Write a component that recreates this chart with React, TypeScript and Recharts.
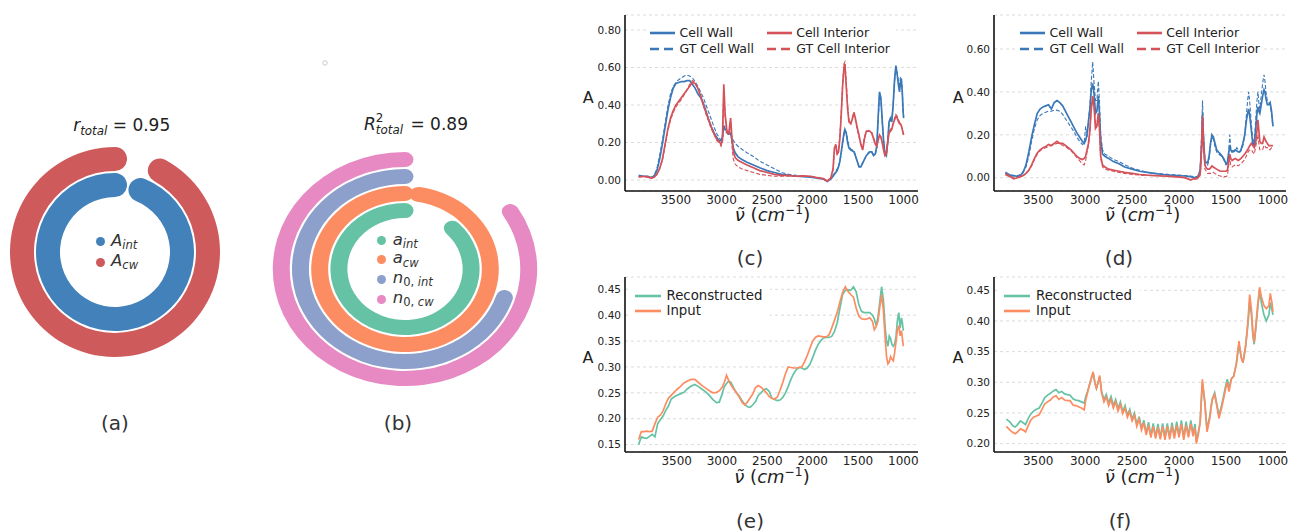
import type { ReactNode } from "react"
import {
  CartesianGrid,
  Cell,
  Line,
  LineChart,
  PolarAngleAxis,
  RadialBar,
  RadialBarChart,
  XAxis,
  YAxis,
} from "recharts"

const FONT = '"DejaVu Sans", Verdana, sans-serif'

// (a) ring values, fraction of a full turn
const aSubs = ["int", "cw"]
const aValues = [0.938, 0.92]
const aColors = ["#4381ba", "#cf5a5c"]

// (b) ring values
const bBases = ["a", "a", "n", "n"]
const bSubs = ["int", "cw", "0,int", "0,cw"]
const bValues = [0.873, 0.975, 0.7, 0.838]
const bColors = ["#66c2a5", "#fc8d62", "#8da0cb", "#e78ac3"]

const xTicks = [3500, 3000, 2500, 2000, 1500, 1000]

// (c) spectra
const cWn = [
  3910, 3860, 3810, 3770, 3740, 3710, 3680, 3650, 3620, 3590,
  3560, 3530, 3500, 3470, 3440, 3410, 3380, 3350, 3320, 3290,
  3260, 3230, 3200, 3170, 3140, 3110, 3080, 3050, 3025, 3005,
  2990, 2975, 2960, 2940, 2920, 2900, 2885, 2870, 2850, 2820,
  2780, 2720, 2650, 2580, 2500, 2420, 2340, 2260, 2180, 2100,
  2020, 1940, 1880, 1840, 1800, 1775, 1760, 1745, 1730, 1715,
  1700, 1685, 1670, 1655, 1645, 1630, 1615, 1600, 1580, 1560,
  1545, 1530, 1510, 1490, 1470, 1450, 1430, 1410, 1390, 1370,
  1350, 1330, 1310, 1295, 1280, 1265, 1250, 1235, 1220, 1205,
  1190, 1175, 1160, 1145, 1130, 1115, 1100, 1085, 1070, 1055,
  1045, 1035, 1025, 1015, 1005, 1000,
]
const cWall = [
  0.025, 0.02, 0.02, 0.012, 0.02, 0.05, 0.11, 0.19, 0.28, 0.37,
  0.44, 0.49, 0.515, 0.52, 0.525, 0.525, 0.53, 0.53, 0.51, 0.49,
  0.46, 0.44, 0.41, 0.365, 0.32, 0.28, 0.25, 0.225, 0.21, 0.21,
  0.23, 0.29, 0.27, 0.26, 0.245, 0.25, 0.21, 0.17, 0.145, 0.125,
  0.11, 0.095, 0.08, 0.065, 0.05, 0.04, 0.03, 0.025, 0.02, 0.018,
  0.015, 0.01, 0.005, -0.008, 0.005, 0.02, 0.03, 0.04, 0.05, 0.07,
  0.1, 0.15, 0.2, 0.25, 0.27, 0.25, 0.2, 0.17, 0.16, 0.155,
  0.15, 0.13, 0.1, 0.07, 0.07, 0.09, 0.11, 0.13, 0.14, 0.15,
  0.15, 0.13, 0.14, 0.18, 0.33, 0.47, 0.44, 0.32, 0.21, 0.14,
  0.13, 0.2, 0.31, 0.33, 0.31, 0.4, 0.53, 0.61, 0.56, 0.5,
  0.47, 0.52, 0.54, 0.47, 0.36, 0.33,
]
const cGtWall = [
  0.02, 0.02, 0.018, 0.015, 0.025, 0.06, 0.13, 0.21, 0.3, 0.39,
  0.46, 0.5, 0.52, 0.535, 0.545, 0.555, 0.56, 0.555, 0.545, 0.525,
  0.5, 0.47, 0.44, 0.4, 0.36, 0.32, 0.28, 0.245, 0.225, 0.21,
  0.22, 0.27, 0.26, 0.25, 0.24, 0.245, 0.23, 0.21, 0.195, 0.18,
  0.165, 0.145, 0.125, 0.1, 0.08, 0.06, 0.04, 0.03, 0.025, 0.02,
  0.015, 0.01, 0.005, -0.005, 0.01, 0.025, 0.035, 0.045, 0.06, 0.07,
  0.1, 0.14, 0.19, 0.24, 0.265, 0.255, 0.215, 0.18, 0.165, 0.16,
  0.155, 0.135, 0.1, 0.075, 0.075, 0.09, 0.11, 0.13, 0.145, 0.155,
  0.15, 0.135, 0.14, 0.17, 0.31, 0.45, 0.43, 0.31, 0.21, 0.15,
  0.14, 0.2, 0.3, 0.32, 0.32, 0.4, 0.52, 0.6, 0.57, 0.52,
  0.49, 0.55, 0.54, 0.48, 0.37, 0.34,
]
const cInt = [
  0.015, 0.02, 0.015, 0.01, 0.015, 0.03, 0.06, 0.11, 0.19, 0.27,
  0.33, 0.37, 0.4, 0.42, 0.44, 0.46, 0.48, 0.5, 0.52, 0.515,
  0.49, 0.45, 0.4, 0.36, 0.32, 0.28, 0.245, 0.215, 0.205, 0.19,
  0.21, 0.51, 0.35, 0.26, 0.25, 0.33, 0.22, 0.15, 0.12, 0.105,
  0.095, 0.08, 0.065, 0.05, 0.04, 0.03, 0.025, 0.025, 0.02, 0.022,
  0.02, 0.012, 0.008, -0.005, 0.01, 0.06, 0.17, 0.19, 0.14, 0.15,
  0.22, 0.35, 0.5, 0.6, 0.62, 0.5, 0.38, 0.31, 0.3, 0.33,
  0.36, 0.33, 0.28, 0.24, 0.19, 0.16, 0.22, 0.26, 0.26, 0.26,
  0.25, 0.22, 0.19, 0.18, 0.21, 0.24, 0.23, 0.2, 0.16, 0.13,
  0.14, 0.2, 0.25, 0.26, 0.27, 0.3, 0.32, 0.34, 0.33, 0.31,
  0.3, 0.3, 0.29, 0.27, 0.25, 0.24,
]
const cGtInt = [
  0.02, 0.015, 0.02, 0.012, 0.015, 0.03, 0.06, 0.1, 0.18, 0.26,
  0.32, 0.36, 0.39, 0.41, 0.43, 0.455, 0.48, 0.51, 0.53, 0.52,
  0.49, 0.45, 0.4, 0.35, 0.31, 0.27, 0.24, 0.21, 0.2, 0.18,
  0.2, 0.47, 0.33, 0.25, 0.24, 0.31, 0.18, 0.11, 0.085, 0.07,
  0.06, 0.05, 0.04, 0.03, 0.025, 0.02, 0.02, 0.02, 0.02, 0.02,
  0.018, 0.01, 0.005, -0.008, 0.005, 0.05, 0.15, 0.18, 0.13, 0.16,
  0.24, 0.36, 0.51, 0.62, 0.63, 0.52, 0.4, 0.32, 0.3, 0.34,
  0.36, 0.32, 0.27, 0.23, 0.19, 0.17, 0.23, 0.26, 0.265, 0.26,
  0.255, 0.225, 0.2, 0.19, 0.22, 0.24, 0.23, 0.2, 0.17, 0.14,
  0.15, 0.21, 0.26, 0.27, 0.28, 0.3, 0.33, 0.35, 0.34, 0.32,
  0.31, 0.3, 0.29, 0.27, 0.25, 0.24,
]

// (d) spectra
const dWn = [
  3850, 3800, 3760, 3720, 3690, 3660, 3630, 3600, 3570, 3540,
  3510, 3480, 3450, 3420, 3390, 3360, 3330, 3300, 3270, 3240,
  3210, 3180, 3150, 3120, 3090, 3060, 3030, 3010, 2995, 2980,
  2965, 2950, 2935, 2920, 2905, 2890, 2875, 2860, 2848, 2835,
  2815, 2790, 2750, 2700, 2640, 2580, 2500, 2420, 2340, 2260,
  2180, 2100, 2020, 1940, 1880, 1840, 1800, 1775, 1760, 1750,
  1740, 1725, 1710, 1695, 1680, 1665, 1650, 1635, 1620, 1600,
  1580, 1560, 1540, 1520, 1500, 1485, 1470, 1460, 1450, 1435,
  1420, 1400, 1385, 1370, 1355, 1340, 1320, 1300, 1285, 1270,
  1258, 1245, 1230, 1215, 1200, 1185, 1170, 1160, 1150, 1140,
  1125, 1110, 1095, 1085, 1075, 1060, 1045, 1030, 1015, 1000,
]
const dWall = [
  0.025, 0.012, 0.01, 0.005, 0.01, 0.025, 0.06, 0.12, 0.19, 0.25,
  0.3, 0.32, 0.33, 0.335, 0.34, 0.32, 0.35, 0.36, 0.35, 0.335,
  0.31, 0.285, 0.26, 0.235, 0.21, 0.19, 0.17, 0.16, 0.175, 0.2,
  0.26, 0.32, 0.41, 0.44, 0.39, 0.3, 0.31, 0.38, 0.3, 0.18,
  0.11, 0.1, 0.09, 0.075, 0.065, 0.05, 0.04, 0.03, 0.025, 0.02,
  0.015, 0.012, 0.01, 0.008, 0.005, 0, 0.005, 0.03, 0.15, 0.3,
  0.18, 0.08, 0.07, 0.07, 0.1, 0.16, 0.2, 0.19, 0.165, 0.13,
  0.12, 0.11, 0.1, 0.085, 0.065, 0.07, 0.12, 0.15, 0.13, 0.12,
  0.125, 0.13, 0.125, 0.12, 0.12, 0.13, 0.16, 0.2, 0.26, 0.3,
  0.32, 0.28, 0.22, 0.16, 0.15, 0.22, 0.3, 0.33, 0.31, 0.3,
  0.34, 0.38, 0.41, 0.4, 0.37, 0.34, 0.34, 0.35, 0.31, 0.24,
]
const dGtWall = [
  0.02, 0.01, 0.008, 0.01, 0.015, 0.03, 0.05, 0.1, 0.17, 0.23,
  0.27, 0.29, 0.3, 0.305, 0.31, 0.31, 0.315, 0.315, 0.31, 0.295,
  0.275, 0.255, 0.235, 0.215, 0.19, 0.17, 0.155, 0.16, 0.24, 0.19,
  0.27, 0.33, 0.45, 0.54, 0.44, 0.36, 0.36, 0.45, 0.36, 0.2,
  0.13, 0.11, 0.1, 0.085, 0.075, 0.06, 0.045, 0.035, 0.025, 0.02,
  0.018, 0.015, 0.012, 0.01, 0.008, 0.005, 0.005, 0.04, 0.2, 0.36,
  0.22, 0.08, 0.06, 0.06, 0.09, 0.15, 0.19, 0.18, 0.15, 0.12,
  0.11, 0.105, 0.095, 0.08, 0.06, 0.065, 0.13, 0.2, 0.14, 0.13,
  0.12, 0.125, 0.14, 0.13, 0.12, 0.125, 0.15, 0.2, 0.28, 0.36,
  0.4, 0.34, 0.25, 0.18, 0.16, 0.26, 0.36, 0.4, 0.35, 0.32,
  0.38, 0.44, 0.48, 0.45, 0.4, 0.36, 0.35, 0.34, 0.3, 0.24,
]
const dInt = [
  0.015, 0.005, -0.005, 0, 0.005, 0.01, 0.02, 0.035, 0.06, 0.09,
  0.115, 0.13, 0.14, 0.145, 0.155, 0.15, 0.16, 0.17, 0.16, 0.16,
  0.15, 0.14, 0.13, 0.115, 0.1, 0.09, 0.085, 0.09, 0.1, 0.13,
  0.16, 0.22, 0.32, 0.38, 0.33, 0.23, 0.24, 0.3, 0.24, 0.1,
  0.06, 0.05, 0.04, 0.035, 0.03, 0.025, 0.02, 0.015, 0.012, 0.01,
  0.008, 0.006, 0.004, 0, -0.01, -0.005, 0, 0.02, 0.14, 0.28,
  0.16, 0.06, 0.045, 0.04, 0.04, 0.045, 0.055, 0.05, 0.045, 0.04,
  0.035, 0.03, 0.03, 0.03, 0.03, 0.035, 0.08, 0.11, 0.09, 0.08,
  0.085, 0.09, 0.085, 0.08, 0.085, 0.09, 0.1, 0.11, 0.12, 0.13,
  0.14, 0.15, 0.16, 0.15, 0.14, 0.16, 0.22, 0.27, 0.22, 0.17,
  0.16, 0.16, 0.19, 0.18, 0.17, 0.16, 0.15, 0.15, 0.15, 0.15,
]
const dGtInt = [
  0.02, 0.008, 0, 0.002, 0.005, 0.01, 0.02, 0.035, 0.055, 0.085,
  0.11, 0.125, 0.135, 0.14, 0.145, 0.15, 0.155, 0.16, 0.16, 0.15,
  0.145, 0.135, 0.125, 0.11, 0.095, 0.08, 0.065, 0.06, 0.08, 0.12,
  0.15, 0.21, 0.32, 0.37, 0.33, 0.24, 0.25, 0.3, 0.22, 0.09,
  0.05, 0.04, 0.035, 0.03, 0.025, 0.02, 0.015, 0.012, 0.01, 0.01,
  0.008, 0.006, 0.004, 0, -0.01, -0.008, -0.005, 0.01, 0.12, 0.29,
  0.15, 0.04, 0.03, 0.02, 0.02, 0.02, 0.025, 0.025, 0.02, 0.015,
  0.01, 0.008, 0.005, 0.005, 0.005, 0.01, 0.06, 0.09, 0.06, 0.05,
  0.055, 0.06, 0.06, 0.055, 0.06, 0.065, 0.075, 0.085, 0.1, 0.115,
  0.125, 0.13, 0.13, 0.12, 0.11, 0.14, 0.18, 0.2, 0.16, 0.13,
  0.13, 0.13, 0.15, 0.15, 0.14, 0.14, 0.13, 0.13, 0.14, 0.14,
]

// (e) reconstruction
const eWn = [
  3920, 3890, 3860, 3830, 3800, 3770, 3740, 3710, 3680, 3650,
  3620, 3590, 3560, 3530, 3500, 3460, 3420, 3380, 3340, 3300,
  3260, 3220, 3180, 3140, 3100, 3060, 3030, 3000, 2975, 2950,
  2925, 2900, 2870, 2840, 2810, 2780, 2750, 2720, 2690, 2660,
  2630, 2600, 2570, 2540, 2510, 2480, 2450, 2420, 2390, 2360,
  2330, 2300, 2270, 2240, 2210, 2180, 2150, 2120, 2090, 2060,
  2030, 2000, 1970, 1940, 1910, 1880, 1850, 1820, 1790, 1760,
  1730, 1700, 1670, 1640, 1610, 1580, 1550, 1520, 1490, 1460,
  1430, 1400, 1370, 1340, 1320, 1300, 1280, 1260, 1240, 1220,
  1200, 1185, 1170, 1155, 1140, 1125, 1110, 1095, 1080, 1065,
  1050, 1035, 1020, 1010, 1000,
]
const eInput = [
  0.16, 0.175, 0.175, 0.176, 0.175, 0.176, 0.19, 0.203, 0.207, 0.215,
  0.229, 0.24, 0.245, 0.251, 0.256, 0.262, 0.269, 0.273, 0.276, 0.276,
  0.27, 0.264, 0.259, 0.254, 0.25, 0.251, 0.254, 0.26, 0.27, 0.284,
  0.273, 0.265, 0.257, 0.25, 0.242, 0.232, 0.227, 0.232, 0.24, 0.248,
  0.26, 0.264, 0.261, 0.256, 0.25, 0.243, 0.239, 0.238, 0.242, 0.255,
  0.27, 0.287, 0.3, 0.299, 0.298, 0.298, 0.299, 0.3, 0.31, 0.322,
  0.336, 0.35, 0.357, 0.36, 0.359, 0.358, 0.358, 0.362, 0.375, 0.39,
  0.405, 0.425, 0.444, 0.455, 0.446, 0.44, 0.435, 0.414, 0.398, 0.393,
  0.392, 0.393, 0.395, 0.388, 0.372, 0.378, 0.388, 0.415, 0.44, 0.41,
  0.355, 0.32, 0.306, 0.31, 0.32, 0.315, 0.312, 0.328, 0.35, 0.372,
  0.38, 0.36, 0.37, 0.355, 0.34,
]
const eRecon = [
  0.15, 0.165, 0.163, 0.162, 0.166, 0.17, 0.165, 0.19, 0.198, 0.205,
  0.216, 0.225, 0.238, 0.242, 0.245, 0.248, 0.251, 0.258, 0.263, 0.266,
  0.262, 0.257, 0.252, 0.245, 0.237, 0.231, 0.232, 0.247, 0.262, 0.268,
  0.273, 0.27, 0.259, 0.25, 0.244, 0.235, 0.228, 0.223, 0.222, 0.227,
  0.233, 0.245, 0.25, 0.256, 0.258, 0.253, 0.24, 0.237, 0.235, 0.236,
  0.241, 0.25, 0.262, 0.276, 0.287, 0.295, 0.299, 0.298, 0.295, 0.298,
  0.305, 0.318, 0.332, 0.343, 0.351, 0.356, 0.357, 0.357, 0.359, 0.368,
  0.385, 0.413, 0.44, 0.448, 0.449, 0.448, 0.455, 0.445, 0.42, 0.407,
  0.405, 0.405, 0.405, 0.4, 0.393, 0.38, 0.395, 0.425, 0.455, 0.43,
  0.375, 0.35, 0.34, 0.36, 0.355, 0.343, 0.34, 0.345, 0.36, 0.39,
  0.405, 0.375, 0.395, 0.385, 0.37,
]

// (f) reconstruction
const fWn = [
  3840, 3800, 3770, 3745, 3720, 3690, 3660, 3635, 3610, 3580,
  3550, 3520, 3490, 3460, 3430, 3400, 3370, 3340, 3310, 3280,
  3250, 3220, 3190, 3160, 3130, 3100, 3070, 3040, 3010, 2995,
  2975, 2950, 2930, 2915, 2895, 2880, 2862, 2845, 2825, 2800,
  2775, 2750, 2725, 2700, 2675, 2650, 2625, 2600, 2575, 2550,
  2525, 2500, 2475, 2450, 2425, 2400, 2375, 2350, 2325, 2300,
  2275, 2250, 2225, 2200, 2175, 2150, 2125, 2100, 2075, 2050,
  2025, 2000, 1975, 1950, 1925, 1900, 1875, 1850, 1830, 1815,
  1795, 1775, 1752, 1727, 1702, 1675, 1648, 1621, 1596, 1575,
  1550, 1525, 1500, 1486, 1468, 1443, 1418, 1390, 1362, 1337,
  1319, 1291, 1266, 1248, 1230, 1213, 1200, 1184, 1160, 1142,
  1124, 1096, 1071, 1043, 1028, 1011, 1000,
]
const fInput = [
  0.228, 0.222, 0.218, 0.216, 0.219, 0.224, 0.222, 0.219, 0.228, 0.238,
  0.243, 0.245, 0.247, 0.256, 0.265, 0.268, 0.271, 0.276, 0.278, 0.272,
  0.275, 0.271, 0.27, 0.27, 0.263, 0.262, 0.26, 0.258, 0.255, 0.27,
  0.283, 0.298, 0.31, 0.317, 0.298, 0.29, 0.3, 0.311, 0.283, 0.268,
  0.276, 0.262, 0.272, 0.258, 0.268, 0.253, 0.264, 0.249, 0.258, 0.243,
  0.252, 0.237, 0.246, 0.228, 0.24, 0.222, 0.234, 0.214, 0.23, 0.21,
  0.228, 0.208, 0.227, 0.207, 0.228, 0.206, 0.228, 0.207, 0.229, 0.208,
  0.23, 0.21, 0.232, 0.206, 0.23, 0.21, 0.232, 0.212, 0.226, 0.2,
  0.215, 0.235, 0.305, 0.268, 0.219, 0.24, 0.27, 0.28, 0.26, 0.241,
  0.256, 0.274, 0.292, 0.3, 0.285, 0.305, 0.31, 0.33, 0.367, 0.34,
  0.332, 0.36, 0.4, 0.443, 0.42, 0.38, 0.365, 0.39, 0.43, 0.455,
  0.44, 0.425, 0.42, 0.425, 0.445, 0.43, 0.415,
]
const fRecon = [
  0.24, 0.235, 0.229, 0.227, 0.231, 0.237, 0.234, 0.231, 0.24, 0.248,
  0.253, 0.256, 0.258, 0.266, 0.275, 0.279, 0.282, 0.286, 0.288, 0.283,
  0.285, 0.281, 0.28, 0.279, 0.273, 0.271, 0.27, 0.268, 0.266, 0.276,
  0.285, 0.298, 0.308, 0.315, 0.298, 0.29, 0.3, 0.309, 0.285, 0.272,
  0.28, 0.266, 0.277, 0.262, 0.272, 0.257, 0.268, 0.252, 0.262, 0.246,
  0.256, 0.24, 0.25, 0.231, 0.244, 0.225, 0.238, 0.217, 0.235, 0.213,
  0.233, 0.211, 0.232, 0.21, 0.233, 0.21, 0.233, 0.211, 0.234, 0.212,
  0.236, 0.213, 0.238, 0.21, 0.236, 0.213, 0.238, 0.216, 0.232, 0.203,
  0.218, 0.236, 0.3, 0.27, 0.223, 0.243, 0.272, 0.283, 0.263, 0.246,
  0.26, 0.278, 0.297, 0.305, 0.29, 0.306, 0.31, 0.33, 0.362, 0.34,
  0.332, 0.358, 0.395, 0.43, 0.412, 0.375, 0.362, 0.385, 0.425, 0.45,
  0.43, 0.41, 0.4, 0.41, 0.43, 0.418, 0.41,
]

const BLUE = "#3a78b8"
const RED = "#d4525a"
const GREEN = "#66c2a5"
const ORANGE = "#fc8d62"

type Series = { key: string; label: string; color: string; dashed?: boolean }

const cellSeries: Series[] = [
  { key: "wall", label: "Cell Wall", color: BLUE },
  { key: "gtWall", label: "GT Cell Wall", color: BLUE, dashed: true },
  { key: "int", label: "Cell Interior", color: RED },
  { key: "gtInt", label: "GT Cell Interior", color: RED, dashed: true },
]
const reconSeries: Series[] = [
  { key: "recon", label: "Reconstructed", color: GREEN },
  { key: "input", label: "Input", color: ORANGE },
]

const cRows = cWn.map((wn, i) => ({ wn, wall: cWall[i], gtWall: cGtWall[i], int: cInt[i], gtInt: cGtInt[i] }))
const dRows = dWn.map((wn, i) => ({ wn, wall: dWall[i], gtWall: dGtWall[i], int: dInt[i], gtInt: dGtInt[i] }))
const eRows = eWn.map((wn, i) => ({ wn, recon: eRecon[i], input: eInput[i] }))
const fRows = fWn.map((wn, i) => ({ wn, recon: fRecon[i], input: fInput[i] }))

const at = (x: number, y: number): React.CSSProperties => ({
  position: "absolute",
  left: x,
  top: y,
  transform: "translate(-50%, -50%)",
  whiteSpace: "nowrap",
})

function Sub({ text }: { text: string }) {
  // leading digits stay upright, like mathtext
  const m = text.match(/^(\d+,\s?)(.*)$/)
  return (
    <span style={{ fontSize: "0.7em", position: "relative", top: "0.3em" }}>
      {m ? <span style={{ fontStyle: "normal" }}>{m[1].replace(",", ", ")}</span> : null}
      <i>{m ? m[2] : text}</i>
    </span>
  )
}

function Sym({ base, sub }: { base: string; sub: string }) {
  return (
    <span>
      <i>{base}</i>
      <Sub text={sub} />
    </span>
  )
}

function Rings({ left, top, size, inner, outer, values, colors, stretch = 1 }: {
  left: number; top: number; size: number; inner: number; outer: number
  values: number[]; colors: string[]; stretch?: number
}) {
  const rows = values.map((value, i) => ({ id: i, value }))
  return (
    <div style={{ position: "absolute", left, top, width: size, height: size, transform: `scaleX(${stretch})`, transformOrigin: "50% 50%" }}>
      <RadialBarChart
        width={size}
        height={size}
        cx={size / 2}
        cy={size / 2}
        margin={{ top: 0, right: 0, bottom: 0, left: 0 }}
        innerRadius={inner}
        outerRadius={outer}
        startAngle={90}
        endAngle={450}
        barCategoryGap={1}
        data={rows}
      >
        <PolarAngleAxis type="number" domain={[0, 1]} tick={false} axisLine={false} />
        <RadialBar dataKey="value" cornerRadius={20} cornerIsExternal isAnimationActive={false}>
          {rows.map((r) => (
            <Cell key={r.id} fill={colors[r.id]} />
          ))}
        </RadialBar>
      </RadialBarChart>
    </div>
  )
}

function DotLegend({ x, ys, colors, children }: { x: number; ys: number[]; colors: string[]; children: ReactNode[] }) {
  return (
    <>
      {ys.map((y, i) => (
        <div key={i}>
          <div style={{ position: "absolute", left: x - 4.5, top: y - 4.5, width: 9, height: 9, borderRadius: "50%", background: colors[i] }} />
          <div style={{ position: "absolute", left: x + 11, top: y - 11, lineHeight: "20px", fontSize: 16.5, color: "#333", whiteSpace: "nowrap" }}>
            {children[i]}
          </div>
        </div>
      ))}
    </>
  )
}

type Box = { left: number; top: number; width: number; height: number; yAxisWidth: number; plotTop: number; right: number; xAxisHeight: number }

function Spectrum({ rows, series, box, xDomain, yDomain, yTicks }: {
  rows: Record<string, number>[]; series: Series[]; box: Box
  xDomain: [number, number]; yDomain: [number, number]; yTicks: number[]
}) {
  return (
    <div style={{ position: "absolute", left: box.left, top: box.top }}>
      <LineChart width={box.width} height={box.height} data={rows} margin={{ top: box.plotTop, right: box.right, bottom: 0, left: 0 }}>
        <CartesianGrid vertical={false} stroke="#d2d2d2" strokeDasharray="3 3" strokeWidth={0.8} />
        <XAxis
          type="number"
          dataKey="wn"
          domain={xDomain}
          reversed
          allowDataOverflow
          ticks={xTicks}
          interval={0}
          height={box.xAxisHeight}
          tickLine={false}
          tickSize={4}
          tickMargin={0}
          axisLine={{ stroke: "#111", strokeWidth: 1.6 }}
          tick={{ fill: "#222", fontSize: 12, fontFamily: FONT }}
        />
        <YAxis
          type="number"
          domain={yDomain}
          allowDataOverflow
          ticks={yTicks}
          interval={0}
          width={box.yAxisWidth}
          tickFormatter={(v: number) => v.toFixed(2)}
          tickLine={false}
          tickSize={3}
          tickMargin={1}
          axisLine={{ stroke: "#111", strokeWidth: 1.6 }}
          tick={{ fill: "#222", fontSize: 10.5, fontFamily: FONT }}
        />
        {series.map((s) => (
          <Line
            key={s.key}
            type="linear"
            dataKey={s.key}
            stroke={s.color}
            strokeWidth={s.dashed ? 1.1 : 1.7}
            strokeDasharray={s.dashed ? "4 2" : undefined}
            dot={false}
            isAnimationActive={false}
          />
        ))}
      </LineChart>
    </div>
  )
}

function LineLegend({ box, entries, fontSize, handle, gap }: {
  box: { left: number; top: number; width: number; height: number }
  entries: { s: Series; x: number; y: number }[]
  fontSize: number; handle: number; gap: number
}) {
  return (
    <>
      <div style={{ position: "absolute", left: box.left, top: box.top, width: box.width, height: box.height, background: "#fff" }} />
      {entries.map(({ s, x, y }) => (
        <div key={s.key}>
          <svg style={{ position: "absolute", left: x, top: y - 3 }} width={handle} height={6}>
            <line x1={0} y1={3} x2={handle} y2={3} stroke={s.color} strokeWidth={2.6} strokeDasharray={s.dashed ? "9 5" : undefined} />
          </svg>
          <div style={{ position: "absolute", left: x + handle + gap, top: y - 9, lineHeight: "18px", fontSize, color: "#222", whiteSpace: "nowrap" }}>
            {s.label}
          </div>
        </div>
      ))}
    </>
  )
}

function XLabel({ x, y }: { x: number; y: number }) {
  return (
    <div style={{ ...at(x, y + 1), fontSize: 18, lineHeight: "18px", color: "#222" }}>
      <i>ν̃</i> (<i>cm</i>
      <span style={{ fontSize: "0.68em", position: "relative", top: "-0.55em" }}>−1</span>)
    </div>
  )
}

const panelLabel = { fontSize: 20, color: "#333" }

export default function App() {
  const topBox = { top: 0, height: 240, plotTop: 15, xAxisHeight: 49 }
  const lowBox = { top: 262, height: 240, plotTop: 15, xAxisHeight: 50 }
  const leftCol = { left: 570, width: 360, yAxisWidth: 55, right: 12 }
  const rightCol = { left: 930, width: 359, yAxisWidth: 64, right: 3 }

  return (
    <div style={{ position: "absolute", left: 0, top: 0, width: 1289, height: 532, overflow: "hidden", background: "#fff", fontFamily: FONT, color: "#222" }}>
      {/* (a) */}
      <div style={{ ...at(121.7, 125), fontSize: 17 }}>
        <Sym base="r" sub="total" /> = 0.95
      </div>
      <Rings left={0} top={137} size={230} inner={54} outer={106} values={aValues} colors={aColors} />
      <DotLegend x={100} ys={[241.7, 262]} colors={aColors}>
        {aSubs.map((s) => (
          <Sym key={s} base="A" sub={s} />
        ))}
      </DotLegend>
      <div style={{ ...at(115, 423), ...panelLabel }}>(a)</div>

      {/* (b) */}
      <div style={{ ...at(416, 125), fontSize: 17 }}>
        <i>R</i>
        <span style={{ display: "inline-flex", flexDirection: "column", verticalAlign: "middle", fontSize: "0.7em", lineHeight: 1, marginRight: 2 }}>
          <span>2</span>
          <i>total</i>
        </span>{" "}
        = 0.89
      </div>
      <svg style={{ position: "absolute", left: 321, top: 59 }} width={8} height={8}>
        <circle cx={4} cy={4} r={2.2} fill="none" stroke="#bbb" strokeWidth={0.8} />
      </svg>
      <Rings left={280} top={143.7} size={250} inner={50} outer={118} values={bValues} colors={bColors} stretch={1.13} />
      <DotLegend x={381.7} ys={[240.7, 259.3, 279, 299]} colors={bColors}>
        {bSubs.map((s, i) => (
          <Sym key={s} base={bBases[i]} sub={s} />
        ))}
      </DotLegend>
      <div style={{ ...at(398, 423), ...panelLabel }}>(b)</div>

      {/* (c) */}
      <Spectrum rows={cRows} series={cellSeries} box={{ ...topBox, ...leftCol }} xDomain={[842, 4060]} yDomain={[-0.0587, 0.88]} yTicks={[0, 0.2, 0.4, 0.6, 0.8]} />
      <LineLegend
        box={{ left: 647, top: 25, width: 249, height: 32 }}
        fontSize={12.5}
        handle={25}
        gap={4.5}
        entries={[
          { s: cellSeries[0], x: 650, y: 33.3 },
          { s: cellSeries[1], x: 650, y: 49 },
          { s: cellSeries[2], x: 766.7, y: 33.3 },
          { s: cellSeries[3], x: 766.7, y: 49 },
        ]}
      />
      <div style={{ ...at(588.3, 96.7), fontSize: 16 }}>A</div>
      <XLabel x={772.5} y={215} />
      <div style={{ ...at(750, 258), ...panelLabel }}>(c)</div>

      {/* (d) */}
      <Spectrum rows={dRows} series={cellSeries} box={{ ...topBox, ...rightCol }} xDomain={[861, 3971]} yDomain={[-0.062, 0.7585]} yTicks={[0, 0.2, 0.4, 0.6]} />
      <LineLegend
        box={{ left: 1017, top: 25, width: 245, height: 32 }}
        fontSize={12.5}
        handle={25}
        gap={4.5}
        entries={[
          { s: cellSeries[0], x: 1020, y: 33.3 },
          { s: cellSeries[1], x: 1020, y: 49 },
          { s: cellSeries[2], x: 1136.7, y: 33.3 },
          { s: cellSeries[3], x: 1136.7, y: 49 },
        ]}
      />
      <div style={{ ...at(958.3, 96.7), fontSize: 16 }}>A</div>
      <XLabel x={1142.5} y={215} />
      <div style={{ ...at(1119, 258), ...panelLabel }}>(d)</div>

      {/* (e) */}
      <Spectrum rows={eRows} series={reconSeries} box={{ ...lowBox, ...leftCol }} xDomain={[838, 4070]} yDomain={[0.1357, 0.4738]} yTicks={[0.15, 0.2, 0.25, 0.3, 0.35, 0.4, 0.45]} />
      <LineLegend
        box={{ left: 629, top: 284, width: 141, height: 35 }}
        fontSize={13.3}
        handle={26}
        gap={5.5}
        entries={[
          { s: reconSeries[0], x: 635, y: 295.7 },
          { s: reconSeries[1], x: 635, y: 310.7 },
        ]}
      />
      <div style={{ ...at(588, 357), fontSize: 16 }}>A</div>
      <XLabel x={772} y={476.5} />
      <div style={{ ...at(750, 521), ...panelLabel }}>(e)</div>

      {/* (f) */}
      <Spectrum rows={fRows} series={reconSeries} box={{ ...lowBox, ...rightCol }} xDomain={[861, 3971]} yDomain={[0.1863, 0.4717]} yTicks={[0.2, 0.25, 0.3, 0.35, 0.4, 0.45]} />
      <LineLegend
        box={{ left: 998, top: 284, width: 142, height: 35 }}
        fontSize={13.3}
        handle={26}
        gap={6}
        entries={[
          { s: reconSeries[0], x: 1004, y: 295.7 },
          { s: reconSeries[1], x: 1004, y: 310.7 },
        ]}
      />
      <div style={{ ...at(958, 356.7), fontSize: 16 }}>A</div>
      <XLabel x={1142.5} y={476.5} />
      <div style={{ ...at(1120, 521), ...panelLabel }}>(f)</div>
    </div>
  )
}
